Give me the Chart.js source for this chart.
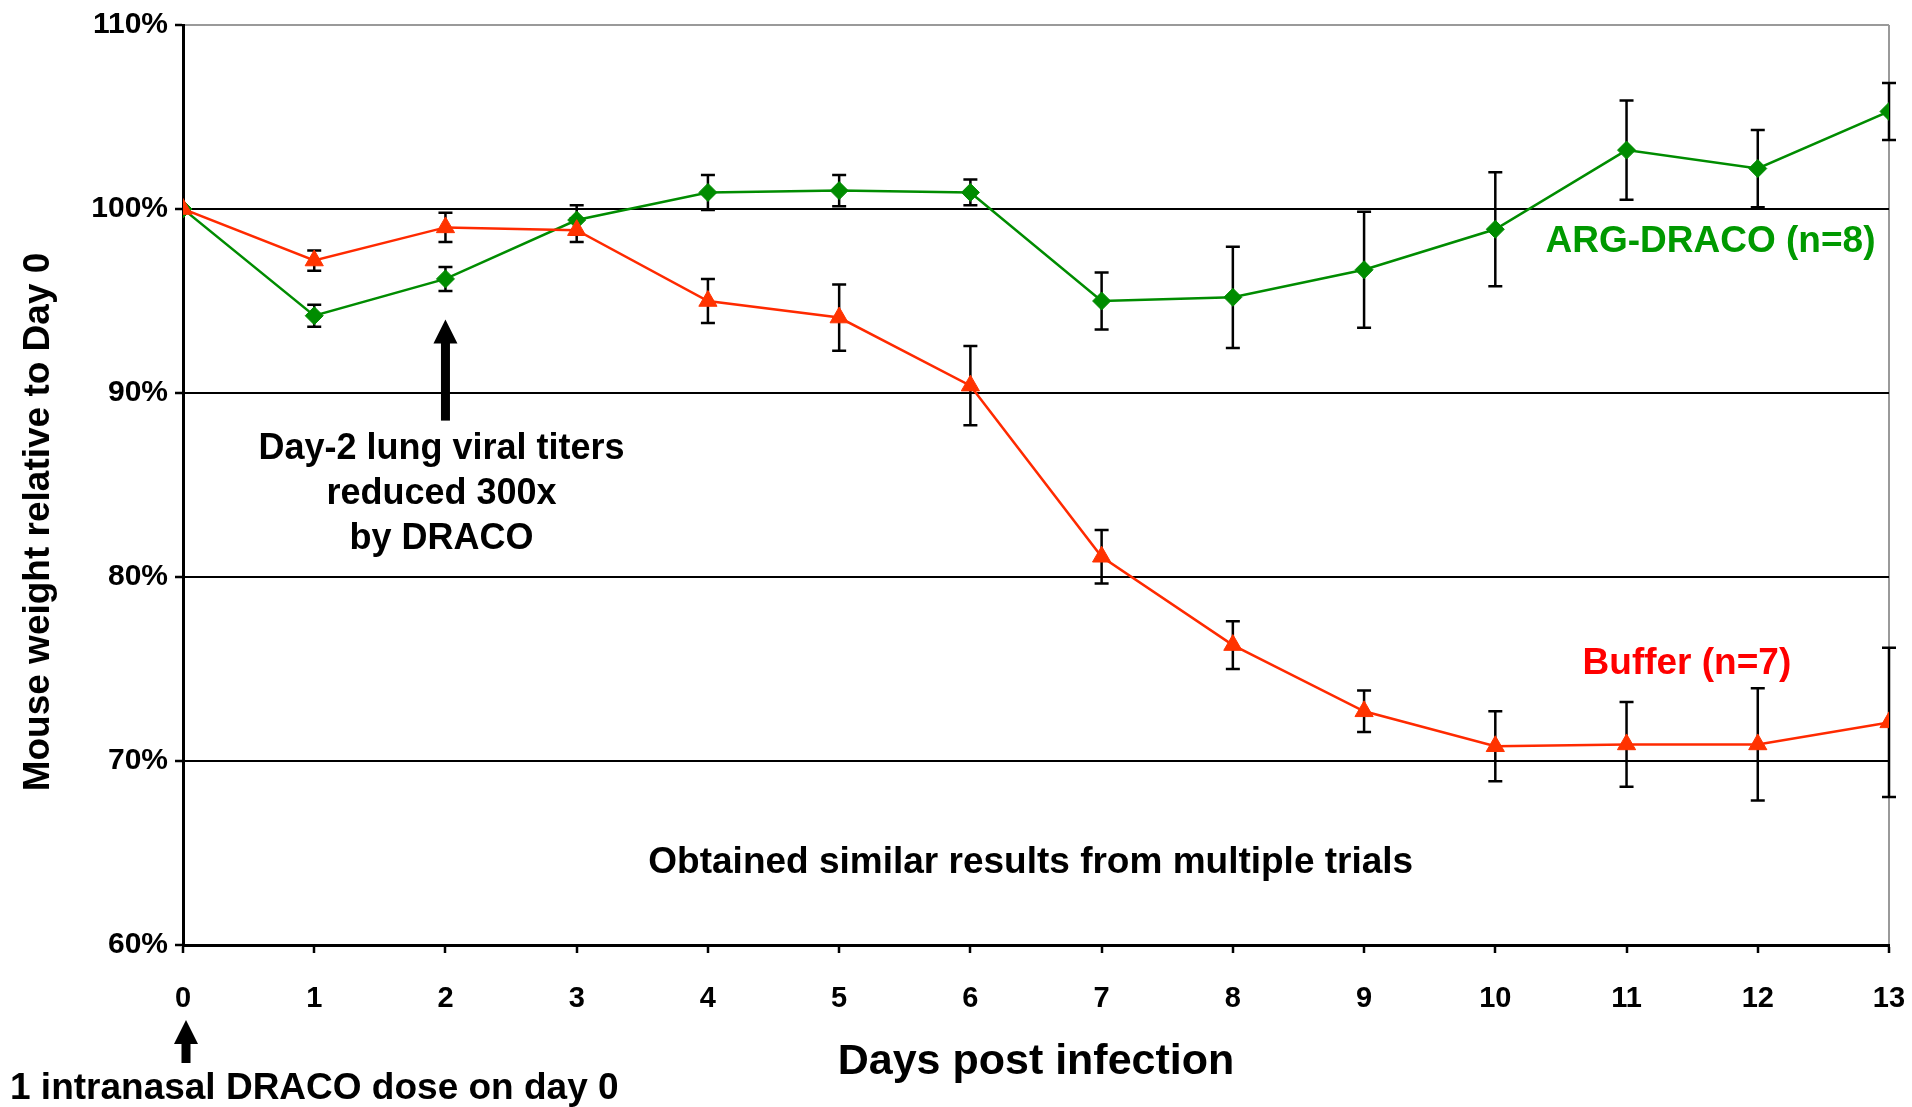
<!DOCTYPE html>
<html>
<head>
<meta charset="utf-8">
<script src="https://cdn.jsdelivr.net/npm/chart.js@4.4.1/dist/chart.umd.min.js"></script>
<style>
  html, body { margin: 0; padding: 0; background: #fff; }
  #wrap { width: 1912px; height: 1107px; }
</style>
</head>
<body>
<div id="wrap"><canvas id="weightChart" width="1912" height="1107"></canvas></div>
<script>
// days post infection
var days = [0, 1, 2, 3, 4, 5, 6, 7, 8, 9, 10, 11, 12, 13];
var yTicks = [60, 70, 80, 90, 100, 110];

// ARG-DRACO (n=8), % of day 0 weight, and error bar half-heights
var dracoWeight = [100, 94.2, 96.2, 99.4, 100.9, 101.0, 100.9, 95.0, 95.2, 96.7, 98.9, 103.2, 102.2, 105.3];
var dracoError  = [0, 0.6, 0.65, 0.8, 0.95, 0.85, 0.7, 1.55, 2.75, 3.15, 3.1, 2.7, 2.1, 1.55];

// Buffer (n=7)
var bufferWeight = [100, 97.2, 99.0, 98.85, 95.0, 94.1, 90.4, 81.1, 76.3, 72.7, 70.8, 70.9, 70.9, 72.1];
var bufferError  = [0, 0.55, 0.8, 0.65, 1.2, 1.8, 2.15, 1.45, 1.3, 1.13, 1.9, 2.3, 3.05, 4.05];

var FONT = '"Liberation Sans", Arial, Helvetica, sans-serif';

function toPoints(ys) {
    return days.map(function(d, i) { return { x: d, y: ys[i] }; });
}

function drawArrow(ctx, x, yTail, yTip) {
    ctx.save();
    ctx.fillStyle = '#000';
    ctx.fillRect(x - 4.5, yTip + 20, 9, yTail - yTip - 20);
    ctx.beginPath();
    ctx.moveTo(x, yTip);
    ctx.lineTo(x + 12, yTip + 24);
    ctx.lineTo(x - 12, yTip + 24);
    ctx.closePath();
    ctx.fill();
    ctx.restore();
}

var errorBars = {
    id: 'errorBars',
    beforeDatasetsDraw: function(chart) {
        var ctx = chart.ctx, xs = chart.scales.x, ys = chart.scales.y;
        var sets = [[dracoWeight, dracoError], [bufferWeight, bufferError]];
        ctx.save();
        ctx.strokeStyle = '#000';
        ctx.lineWidth = 2.5;
        sets.forEach(function(s) {
            days.forEach(function(d, i) {
                if (!s[1][i]) return;
                var px = xs.getPixelForValue(d);
                var top = ys.getPixelForValue(s[0][i] + s[1][i]);
                var bot = ys.getPixelForValue(s[0][i] - s[1][i]);
                ctx.beginPath();
                ctx.moveTo(px, top); ctx.lineTo(px, bot);
                ctx.moveTo(px - 7, top); ctx.lineTo(px + 7, top);
                ctx.moveTo(px - 7, bot); ctx.lineTo(px + 7, bot);
                ctx.stroke();
            });
        });
        ctx.restore();
    }
};

var annotations = {
    id: 'annotations',
    afterDraw: function(chart) {
        var ctx = chart.ctx, xs = chart.scales.x, ys = chart.scales.y, area = chart.chartArea;
        ctx.save();
        ctx.textAlign = 'center';
        ctx.textBaseline = 'middle';

        // series labels
        ctx.font = 'bold 37px ' + FONT;
        ctx.fillStyle = '#009900';
        ctx.fillText('ARG-DRACO (n=8)', xs.getPixelForValue(11.64), ys.getPixelForValue(98.2));
        ctx.fillStyle = '#ff0000';
        ctx.fillText('Buffer (n=7)', xs.getPixelForValue(11.46), ys.getPixelForValue(75.3));

        // day-2 note
        ctx.fillStyle = '#000';
        drawArrow(ctx, xs.getPixelForValue(2), ys.getPixelForValue(88.5), ys.getPixelForValue(94.0));
        ctx.font = 'bold 36px ' + FONT;
        var noteY = ys.getPixelForValue(86.95);
        var noteX = xs.getPixelForValue(1.97);
        ['Day-2 lung viral titers', 'reduced 300x', 'by DRACO'].forEach(function(line, i) {
            ctx.fillText(line, noteX, noteY + i * 45);
        });

        ctx.font = 'bold 37px ' + FONT;
        ctx.fillText('Obtained similar results from multiple trials', xs.getPixelForValue(6.46), ys.getPixelForValue(64.45));

        // axis titles
        ctx.font = 'bold 43px ' + FONT;
        ctx.fillText('Days post infection', (area.left + area.right) / 2, area.bottom + 117);

        ctx.save();
        ctx.translate(39, 522);
        ctx.rotate(-Math.PI / 2);
        ctx.font = 'bold 37px ' + FONT;
        ctx.fillText('Mouse weight relative to Day 0', 0, 0);
        ctx.restore();

        // dose note under the x axis
        drawArrow(ctx, xs.getPixelForValue(0) + 3, area.bottom + 118, area.bottom + 75);
        ctx.textAlign = 'left';
        ctx.font = 'bold 37px ' + FONT;
        ctx.fillText('1 intranasal DRACO dose on day 0', 10, area.bottom + 144);
        ctx.restore();
    }
};

var ctx = document.getElementById('weightChart').getContext('2d');
var weightChart = new Chart(ctx, {
    type: 'line',
    data: {
        datasets: [{
            label: 'Buffer (n=7)',
            data: toPoints(bufferWeight),
            borderColor: '#ff2a00',
            backgroundColor: '#ff3300',
            borderWidth: 2.5,
            pointStyle: 'triangle',
            pointRadius: 10.5,
            pointBorderWidth: 1,
            pointBorderColor: '#ff3300',
            tension: 0
        }, {
            label: 'ARG-DRACO (n=8)',
            data: toPoints(dracoWeight),
            borderColor: '#008c00',
            backgroundColor: '#008c00',
            borderWidth: 2.5,
            pointStyle: 'rectRot',
            pointRadius: 9,
            pointBorderWidth: 1,
            pointBorderColor: '#008c00',
            tension: 0
        }]
    },
    options: {
        responsive: false,
        animation: false,
        layout: { padding: { left: 0, top: 23, right: 23, bottom: 0 } },
        plugins: {
            legend: { display: false },
            tooltip: { enabled: false }
        },
        scales: {
            x: {
                type: 'linear',
                min: 0,
                max: 13,
                afterFit: function(scale) {
                    scale.height = 162;
                    scale.paddingLeft = 0;
                    scale.paddingRight = 0;
                },
                afterBuildTicks: function(scale) {
                    scale.ticks = days.map(function(d) { return { value: d }; });
                },
                ticks: {
                    color: '#000',
                    padding: 29,
                    maxRotation: 0,
                    autoSkip: false,
                    font: { family: FONT, size: 29, weight: 'bold' }
                },
                grid: {
                    color: function(c) { return c.tick && c.tick.value === 13 ? '#9a9a9a' : 'rgba(0,0,0,0)'; },
                    lineWidth: 2,
                    tickLength: 8,
                    tickColor: '#000',
                    tickWidth: 2.5
                },
                border: { color: '#000', width: 3 }
            },
            y: {
                min: 60,
                max: 110,
                afterFit: function(scale) { scale.width = 183; },
                afterBuildTicks: function(scale) {
                    scale.ticks = yTicks.map(function(v) { return { value: v }; });
                },
                ticks: {
                    color: '#000',
                    padding: 7,
                    font: { family: FONT, size: 30, weight: 'bold' },
                    callback: function(v) { return v + '%'; }
                },
                grid: {
                    color: function(c) { return c.tick && c.tick.value === 110 ? '#9a9a9a' : '#000'; },
                    lineWidth: 2,
                    tickLength: 8,
                    tickColor: '#000',
                    tickWidth: 2.5
                },
                border: { color: '#000', width: 3 }
            }
        }
    },
    plugins: [errorBars, annotations]
});
</script>
</body>
</html>
